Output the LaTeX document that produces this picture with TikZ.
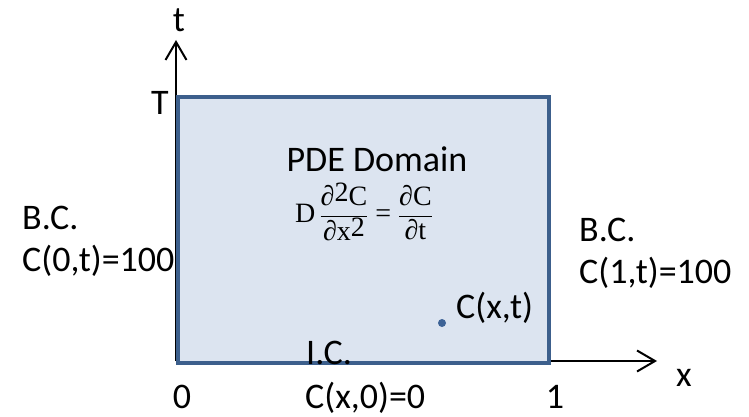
\documentclass[tikz,border=0pt]{standalone}
\usepackage{fontspec}
\setmainfont{Carlito}
\newfontfamily\eqfont{Liberation Serif}
\usetikzlibrary{arrows.meta}
\definecolor{domfill}{HTML}{DCE4F0}
\definecolor{domline}{HTML}{3C5F8C}
\definecolor{dotblue}{HTML}{3D6296}
\newcommand\pf[1]{\mbox{\eqfont #1}}
\newcommand\sqr{\raisebox{0.3ex}{2}}
\begin{document}
\begin{tikzpicture}[x=1pt,y=-1pt,
  lbl/.style={font=\fontsize{36}{40}\selectfont, inner sep=0pt},
  axis/.style={line width=2pt, -{Straight Barb[length=18pt,width=21pt,line width=2pt]}}]
\useasboundingbox (0,0) rectangle (749,417);
% axes
\coordinate (o) at (176,361);
\coordinate (ttip) at (176,40);
\coordinate (xend) at (547,361);
\coordinate (xtip) at (657,361);
\draw[axis] (o) -- (ttip);
\draw[axis] (xend) -- (xtip);
% domain
\node[draw=domline, fill=domfill, line width=4pt, minimum width=371pt, minimum height=266pt, inner sep=0pt, anchor=north west] (dom) at (176,95) {};
% labels
\node[lbl, anchor=base] (tl) at (179,32) {t};
\node[lbl, anchor=base] (Tl) at (160,115) {T};
\node[lbl, anchor=base] (pde) at (377,171) {PDE Domain};
\node[inner sep=0pt, font=\fontsize{28}{32}\selectfont] (eq) at (364,212)
  {$\pf{D}\,\displaystyle\frac{\pf{∂\sqr C}}{\pf{∂x\sqr}}\;\pf{=}\;\frac{\pf{∂C}}{\pf{∂t}}$};
\node[lbl, anchor=base west] (bcl) at (22,229) {B.C.};
\node[lbl, anchor=base west] (bclv) at (22,271) {C(0,t)=100};
\node[lbl, anchor=base west] (bcr) at (579,241) {B.C.};
\node[lbl, anchor=base west] (bcrv) at (579,283) {C(1,t)=100};
\node[circle, fill=dotblue, inner sep=0pt, minimum size=8pt] (pt) at (442,323) {};
\node[lbl, anchor=base west] (ptl) at (456,318) {C(x,t)};
\node[lbl, anchor=base] (xl) at (684,386) {x};
\node[lbl, anchor=base] (zero) at (182,408) {0};
\node[lbl, anchor=base] (one) at (555,408) {1};
\node[lbl, anchor=base west] (ic) at (306,364) {I.C.};
\node[lbl, anchor=base west] (icv) at (305,408) {C(x,0)=0};
\end{tikzpicture}
\end{document}
